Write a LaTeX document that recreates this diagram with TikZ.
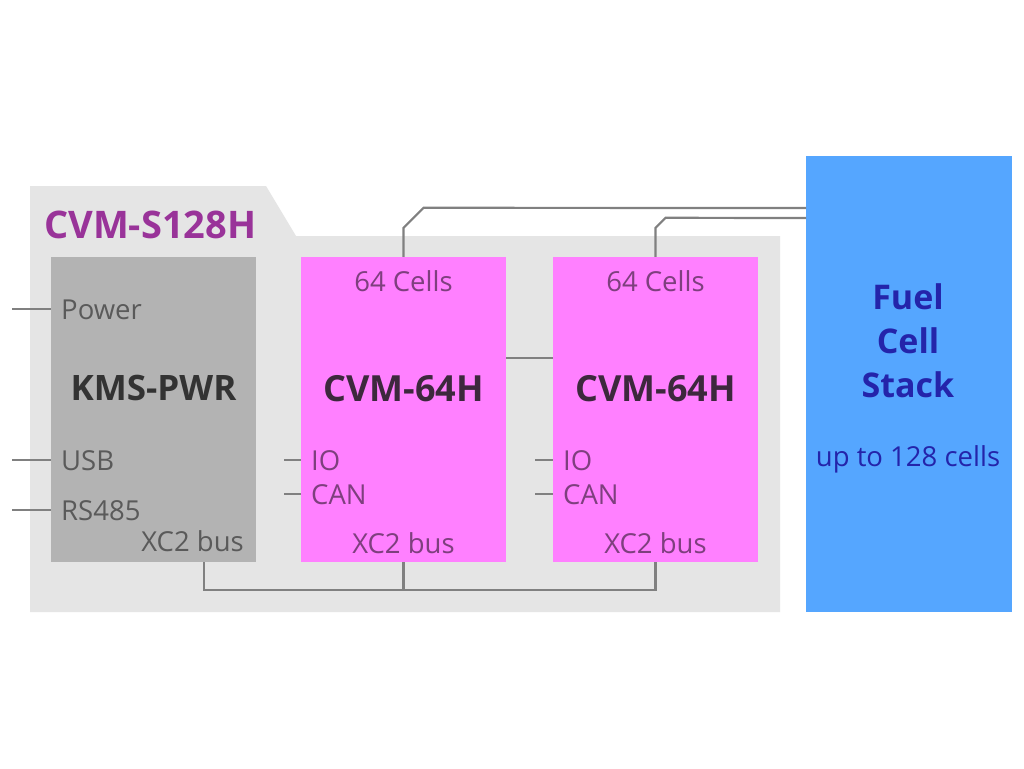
\documentclass[tikz,border=0pt]{standalone}
\usepackage{fontspec}
\setmainfont{Open Sans}
\usetikzlibrary{calc}
\definecolor{panel}{HTML}{E5E5E5}
\definecolor{kmsgray}{HTML}{B3B3B3}
\definecolor{mag}{HTML}{FF80FF}
\definecolor{stackblue}{HTML}{55A6FF}
\definecolor{wire}{HTML}{808080}
\definecolor{txtgray}{HTML}{5A5A5A}
\definecolor{ttlpurple}{HTML}{993399}
\definecolor{magtxt}{HTML}{7E3F7E}
\definecolor{magbold}{HTML}{3D283D}
\definecolor{bluetxt}{HTML}{2424AA}
\tikzset{
  box/.style={draw=none, minimum width=205pt, minimum height=305pt, inner sep=0pt},
  wireline/.style={draw=wire, line width=2.2pt},
  lbl/.style={inner sep=0pt, font=\fontsize{27.5}{32}\selectfont},
  bigbold/.style={inner sep=0pt, font=\fontsize{35}{40}\selectfont\bfseries},
}
\begin{document}
\begin{tikzpicture}[x=1pt,y=-1pt]
\useasboundingbox (0,0) rectangle (1024,768);
\fill[white] (0,0) rectangle (1024,768);
% outer panel with tab
\fill[panel] (30,186) -- (266,186) -- (296,236) -- (780,236) -- (780,612) -- (30,612) -- cycle;
\node[text=ttlpurple, font=\fontsize{38}{44}\selectfont\bfseries, anchor=west, inner sep=0pt] (ttl) at (44,225) {CVM-S128H};
% boxes
\node[box, fill=kmsgray] (kms) at (153.5,409.5) {};
\node[box, fill=mag] (cvma) at (403.5,409.5) {};
\node[box, fill=mag] (cvmb) at (655.5,409.5) {};
\node[draw=none, fill=stackblue, minimum width=206pt, minimum height=456pt, inner sep=0pt] (fcs) at (909,384) {};
% coordinates
\coordinate (pw) at (12,309);
\coordinate (usb) at (12,460);
\coordinate (rs) at (12,510);
\coordinate (ioa) at (284,460);
\coordinate (cana) at (284,494);
\coordinate (iob) at (535,460);
\coordinate (canb) at (535,494);
\coordinate (bus) at (204,590);
\coordinate (mid) at (530,358);
\coordinate (ta) at (806,208);
\coordinate (tb) at (806,218);
% wires
\draw[wireline] (pw) -- (pw -| kms.west);
\draw[wireline] (usb) -- (usb -| kms.west);
\draw[wireline] (rs) -- (rs -| kms.west);
\draw[wireline] (ioa) -- (ioa -| cvma.west);
\draw[wireline] (cana) -- (cana -| cvma.west);
\draw[wireline] (iob) -- (iob -| cvmb.west);
\draw[wireline] (canb) -- (canb -| cvmb.west);
\draw[wireline] (kms.south -| bus) -- (bus) -| (cvmb.south);
\draw[wireline] (cvma.south) -- (cvma.south |- bus);
\draw[wireline] (mid -| cvma.east) -- (mid -| cvmb.west);
\draw[wireline] (cvma.north) -- ++(0,-29) -- ++(20,-20) -- (ta);
\draw[wireline] (cvmb.north) -- ++(0,-29) -- ++(10,-10) -- (tb);
% KMS texts
\node[lbl, text=txtgray, anchor=west] (tpw) at (61,310) {Power};
\node[bigbold, text=black!80, anchor=center] (tkms) at (153.5,388) {KMS-PWR};
\node[lbl, text=txtgray, anchor=west] (tusb) at (61,461) {USB};
\node[lbl, text=txtgray, anchor=west] (trs) at (61,511) {RS485};
\node[lbl, text=txtgray, anchor=east] (tbus) at (244,541) {XC2 bus};
% CVM A
\node[lbl, text=magtxt] (ca1) at (cvma.center |- 0,281) {64 Cells};
\node[bigbold, text=magbold, font=\fontsize{36}{40}\selectfont\bfseries] (ca2) at (cvma.center |- 0,389) {CVM-64H};
\node[lbl, text=magtxt, anchor=west] (ca3) at (311,461) {IO};
\node[lbl, text=magtxt, anchor=west] (ca4) at (311,495) {CAN};
\node[lbl, text=magtxt] (ca5) at (cvma.center |- 0,543) {XC2 bus};
% CVM B
\node[lbl, text=magtxt] (cb1) at (cvmb.center |- 0,281) {64 Cells};
\node[bigbold, text=magbold, font=\fontsize{36}{40}\selectfont\bfseries] (cb2) at (cvmb.center |- 0,389) {CVM-64H};
\node[lbl, text=magtxt, anchor=west] (cb3) at (563,461) {IO};
\node[lbl, text=magtxt, anchor=west] (cb4) at (563,495) {CAN};
\node[lbl, text=magtxt] (cb5) at (cvmb.center |- 0,543) {XC2 bus};
% stack
\node[bigbold, text=bluetxt, align=center, font=\fontsize{34}{44}\selectfont\bfseries] (st) at (908,341) {Fuel\\Cell\\Stack};
\node[lbl, text=bluetxt] (st2) at (908,459) {up to 128 cells};
\end{tikzpicture}
\end{document}
